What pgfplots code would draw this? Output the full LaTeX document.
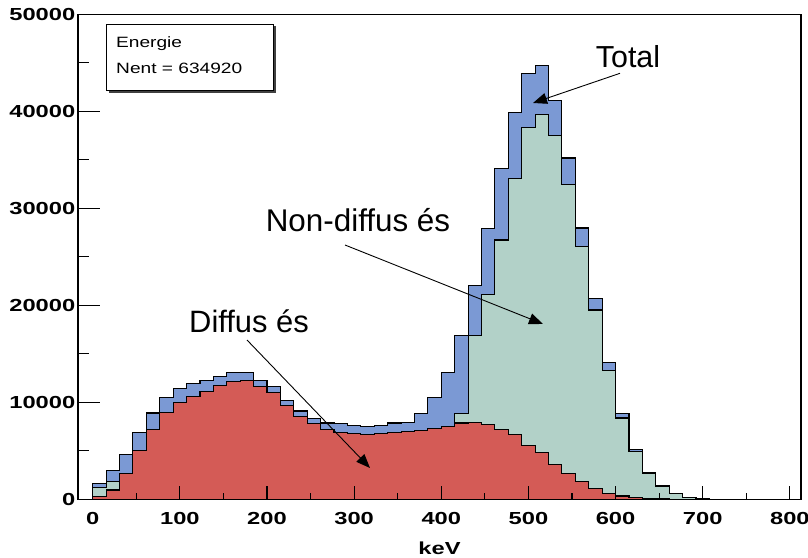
\documentclass[border=0pt]{standalone}
\usepackage{pgfplots}
\pgfplotsset{compat=1.18}
\usepackage{fontspec}
\setmainfont{Liberation Sans}
\newfontfamily\widefont[FakeStretch=1.36]{Liberation Sans}
\newfontfamily\statfont[FakeStretch=1.28]{Liberation Sans}
\usetikzlibrary{arrows.meta}
\definecolor{totblue}{RGB}{123,153,212}
\definecolor{ndgreen}{RGB}{178,209,200}
\definecolor{dred}{RGB}{212,91,86}

\begin{document}
\begin{tikzpicture}
\begin{axis}[
  at={(0,0)}, anchor=south west,
  scale only axis, width=723bp, height=485bp,
  xmin=-16.9, xmax=812.8, ymin=0, ymax=50000,
  axis on top,
  axis line style={line width=1.4bp},
  tick pos=left, tick align=inside,
  xtick={0,100,...,800},
  xticklabels={0,100,200,300,400,500,600,700,800},
  minor xtick={50,150,...,750},
  ytick={0,10000,...,50000},
  yticklabels={0,10000,20000,30000,40000,50000},
  minor ytick={5000,15000,...,45000},
  major tick length=22bp, minor tick length=11bp,
  xtick style={/pgfplots/major tick length=13bp,/pgfplots/minor tick length=6.5bp},
  tick style={line width=1.1bp, black},
  ticklabel style={font=\widefont\bfseries\fontsize{17.5}{20}\selectfont},
  xticklabel style={inner sep=0pt, anchor=north, yshift=-13bp},
  yticklabel style={inner xsep=2.5bp, inner ysep=0pt, anchor=east},
  xlabel={keV},
  xlabel style={at={(axis description cs:0.5,0)}, anchor=base, yshift=-55bp, inner sep=0pt,
    font=\widefont\bfseries\fontsize{17.5}{20}\selectfont},
  clip=false,
]
% Total
\addplot[const plot, fill=totblue, draw=black, line width=1.1bp] coordinates {
(-15.38,0) (0,1650) (15.38,2960) (30.77,4660) (46.15,6930) (61.54,8900) (76.92,10520)
(92.31,11420) (107.69,11900) (123.08,12240) (138.46,12630) (153.85,13040) (169.23,13040)
(184.62,12280) (200.00,11590) (215.38,10200) (230.77,9100) (246.15,8340) (261.54,7870)
(276.92,7790) (292.31,7620) (307.69,7510) (323.08,7590) (338.46,7870) (353.85,7950)
(369.23,8860) (384.62,10540) (400.00,13070) (415.38,16900) (430.77,22000) (446.15,27950)
(461.54,34080) (476.92,39850) (492.31,43900) (507.69,44700) (523.08,41150) (538.46,35190)
(553.85,27970) (569.23,20700) (584.62,14080) (600.00,8800) (615.38,5170) (630.77,2760)
(646.15,1380) (661.54,620) (676.92,210) (692.31,60) (707.69,20) (723.08,0) (812.8,0)
} \closedcycle;
% Non-diffuses
\addplot[const plot, fill=ndgreen, draw=black, line width=1.1bp] coordinates {
(-15.38,0) (0,1230) (15.38,1790) (30.77,1500) (46.15,1300) (61.54,1200) (76.92,1100)
(92.31,1000) (107.69,950) (123.08,900) (138.46,850) (153.85,800) (169.23,800)
(184.62,750) (200.00,700) (215.38,650) (230.77,600) (246.15,600) (261.54,600)
(276.92,650) (292.31,700) (307.69,800) (323.08,1000) (338.46,1300) (353.85,1800)
(369.23,2800) (384.62,4500) (400.00,6800) (415.38,8860) (430.77,16900) (446.15,21140)
(461.54,26730) (476.92,33050) (492.31,38300) (507.69,39670) (523.08,37470) (538.46,32430)
(553.85,26080) (569.23,19520) (584.62,13310) (600.00,8380) (615.38,4900) (630.77,2620)
(646.15,1310) (661.54,570) (676.92,180) (692.31,50) (707.69,15) (723.08,0) (812.8,0)
} \closedcycle;
% Diffuses
\addplot[const plot, fill=dred, draw=black, line width=1.1bp] coordinates {
(-15.38,0) (0,280) (15.38,960) (30.77,2650) (46.15,5030) (61.54,7200) (76.92,8960)
(92.31,10000) (107.69,10620) (123.08,11100) (138.46,11700) (153.85,12170) (169.23,12280)
(184.62,11650) (200.00,11030) (215.38,9660) (230.77,8550) (246.15,7790) (261.54,7170)
(276.92,6930) (292.31,6760) (307.69,6650) (323.08,6760) (338.46,6890) (353.85,6960)
(369.23,7100) (384.62,7330) (400.00,7500) (415.38,7870) (430.77,7950) (446.15,7720)
(461.54,7170) (476.92,6650) (492.31,5530) (507.69,4840) (523.08,3620) (538.46,2690)
(553.85,1810) (569.23,1100) (584.62,620) (600.00,340) (615.38,170) (630.77,80)
(646.15,30) (661.54,10) (676.92,0) (812.8,0)
} \closedcycle;
\end{axis}
% stats box
\fill[black!75] (31.2bp,406.1bp) rectangle (197.8bp,472.8bp);
\filldraw[fill=white, draw=black, line width=0.8bp] (28.7bp,408.6bp) rectangle (195.3bp,475.3bp);
\node[anchor=base west, inner sep=0pt, font=\statfont\fontsize{15}{18}\selectfont] at (38bp,452bp) {Energie};
\node[anchor=base west, inner sep=0pt, font=\statfont\fontsize{15}{18}\selectfont] at (38bp,425.3bp) {Nent = 634920};
% annotations
\node[anchor=base, inner sep=0pt, font=\fontsize{30.5}{34}\selectfont] at (550bp,431.3bp) {Total};
\draw[line width=0.9bp, -{Triangle[length=14bp,width=11bp]}] (542bp,426bp) -- (455bp,396.3bp);
\node[anchor=base, inner sep=0pt, font=\fontsize{31.5}{35}\selectfont] at (280bp,267.6bp) {Non-diffus és};
\draw[line width=0.9bp, -{Triangle[length=14bp,width=11bp]}] (267bp,254.3bp) -- (465bp,175.3bp);
\node[anchor=base, inner sep=0pt, font=\fontsize{31}{35}\selectfont] at (171bp,166.3bp) {Diffus és};
\draw[line width=0.9bp, -{Triangle[length=14bp,width=11bp]}] (169bp,159.3bp) -- (292bp,31.3bp);
\pgfresetboundingbox
\path[use as bounding box] (-78bp,-58.7bp) rectangle (730bp,499.3bp);
\end{tikzpicture}
\end{document}
